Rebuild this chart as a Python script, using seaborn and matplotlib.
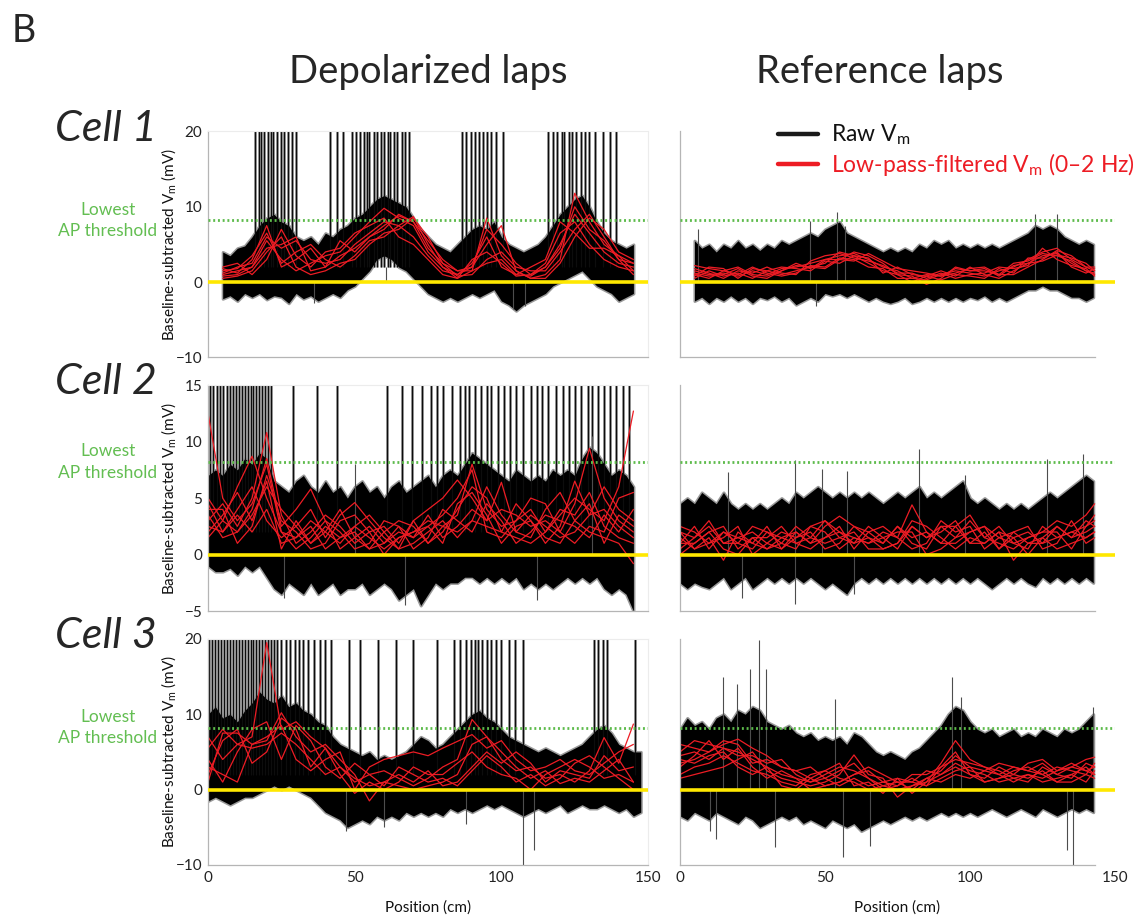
import numpy as np
import pandas as pd
import seaborn as sns
import matplotlib.pyplot as plt
from matplotlib.transforms import blended_transform_factory

nan = np.nan

# --- posições (cm) ---
POS_DEP = [0, 5, 10, 15, 20, 25, 30, 35, 40, 45, 50, 55, 60, 65, 70, 75, 80, 85, 90, 95,
           100, 105, 110, 115, 120, 125, 130, 135, 140, 145]
POS_REF = [0, 5, 10, 15, 20, 25, 30, 35, 40, 45, 50, 55, 60, 65, 70, 75, 80, 85, 90, 95,
           100, 105, 110, 115, 120, 125, 130, 135, 140, 143]
BAND_DEP = [0, 2.5, 5, 7.5, 10, 12.5, 15, 17.5, 20, 22.5, 25, 27.5, 30, 32.5, 35, 37.5, 40, 42.5,
            45, 47.5, 50, 52.5, 55, 57.5, 60, 62.5, 65, 67.5, 70, 72.5, 75, 77.5, 80, 82.5, 85,
            87.5, 90, 92.5, 95, 97.5, 100, 102.5, 105, 107.5, 110, 112.5, 115, 117.5, 120, 122.5,
            125, 127.5, 130, 132.5, 135, 137.5, 140, 142.5, 145, 147.5]
BAND_REF = [0, 2.5, 5, 7.5, 10, 12.5, 15, 17.5, 20, 22.5, 25, 27.5, 30, 32.5, 35, 37.5, 40, 42.5,
            45, 47.5, 50, 52.5, 55, 57.5, 60, 62.5, 65, 67.5, 70, 72.5, 75, 77.5, 80, 82.5, 85,
            87.5, 90, 92.5, 95, 97.5, 100, 102.5, 105, 107.5, 110, 112.5, 115, 117.5, 120, 122.5,
            125, 127.5, 130, 132.5, 135, 137.5, 140, 142.5]

# --- Célula 1, voltas despolarizadas ---
C1_DEP_UP = [nan, nan, 4.0, 3.5, 4.5, 4.8, 6.0, 7.5, 8.5, 9.0, 8.0, 7.5, 6.0, 5.5, 6.0, 5.0, 6.5, 6.0, 7.0, 7.5,
             8.5, 9.0, 10.0, 11.0, 11.5, 11.0, 10.5, 10.0, 8.5, 7.0, 6.0, 5.0, 4.5, 4.0, 5.0, 6.0, 7.0, 7.5, 7.0, 8.0,
             6.0, 5.0, 4.5, 4.0, 4.5, 5.0, 6.0, 7.5, 9.0, 10.0, 11.0, 11.5, 10.0, 8.0, 6.5, 5.5, 5.0, 4.5, 5.0, nan]
C1_DEP_LO = [nan, nan, -2.2, -1.8, -2.5, -1.5, -2.0, -1.5, -2.3, -1.8, -2.0, -2.8, -1.5, -2.2, -1.8, -2.5, -2.0, -1.5, -2.0, -1.0,
             -0.5, 0.5, 1.5, 3.0, 3.5, 3.0, 2.0, 1.5, 0.5, -0.5, -1.5, -2.0, -2.5, -2.0, -2.5, -2.0, -1.5, -2.0, -1.5, -1.0,
             -2.5, -3.0, -3.8, -3.0, -2.5, -2.0, -1.5, -0.5, 0.0, 0.5, 1.0, 1.5, 0.5, -0.5, -1.0, -1.5, -2.5, -2.0, -1.5, nan]
C1_DEP_SPIKES = [16, 17.5, 18.2, 19, 20.5, 21.5, 22.3, 23.5, 24.8, 26, 27.2, 28.5, 30, 41.5, 44, 46, 49, 50.5,
                 51.8, 53, 54.2, 55, 56.5, 57.5, 58.8, 60, 61.2, 62, 63.5, 64.5, 66, 67, 68.5, 86.5, 88, 89.5,
                 91, 92.5, 93.8, 95, 96.5, 98, 100.5, 116, 117.5, 119, 120.5, 121.5, 123, 124, 125.5, 127,
                 128.5, 130, 132, 134.5, 137, 139]
C1_DEP_PEAK_X = [36, 60.5, 104, 108]
C1_DEP_PEAK_Y = [-2.8, 2.0, -3.6, -3.2]
C1_DEP_LAPS = [
    [nan, 1.0, 1.5, 2.0, 5.5, 3.0, 1.5, 2.5, 3.5, 4.0, 6.0, 8.0, 9.8, 8.5, 7.5, 4.0, 2.0, 1.0, 2.5, 6.0, 2.0, 1.0, 0.8, 2.0, 5.0, 9.0, 6.5, 4.0, 2.5, 2.0],
    [nan, 1.8, 1.2, 3.0, 7.5, 2.0, 3.0, 4.5, 2.0, 3.5, 4.5, 6.0, 7.5, 8.8, 8.0, 5.5, 3.0, 1.5, 1.5, 8.5, 3.5, 1.5, 0.5, 1.0, 3.0, 11.8, 8.0, 5.0, 3.5, 1.5],
    [nan, 0.5, 0.8, 1.5, 4.0, 6.0, 2.0, 1.0, 1.5, 2.5, 3.0, 5.0, 6.5, 7.0, 8.5, 6.0, 2.5, 0.8, 1.0, 3.0, 4.0, 2.0, 1.5, 1.5, 4.0, 7.0, 9.0, 6.0, 3.0, 2.5],
    [nan, 1.2, 2.0, 2.5, 6.0, 4.5, 5.5, 3.0, 2.5, 3.0, 5.0, 6.5, 8.0, 7.5, 6.0, 3.5, 1.5, 1.0, 2.0, 5.0, 7.5, 1.5, 0.5, 0.5, 2.5, 6.0, 8.5, 7.0, 4.0, 3.0],
    [nan, 2.0, 2.5, 1.0, 3.0, 7.0, 3.5, 2.0, 4.0, 4.5, 6.5, 7.5, 8.5, 6.0, 5.0, 3.0, 1.0, 0.5, 3.0, 4.0, 2.5, 0.8, 1.0, 2.5, 6.5, 8.0, 5.0, 3.0, 2.0, 1.5],
    [nan, 0.8, 1.0, 2.0, 4.5, 5.0, 6.0, 1.5, 2.0, 5.5, 4.0, 6.0, 7.0, 9.0, 8.0, 4.5, 2.5, 1.5, 2.0, 7.0, 5.0, 2.5, 1.0, 2.0, 4.5, 10.0, 7.0, 5.5, 3.0, 1.0],
    [nan, 1.5, 1.8, 3.5, 6.5, 2.5, 4.0, 5.0, 3.0, 2.0, 3.5, 5.5, 6.0, 7.5, 8.7, 5.0, 2.0, 0.5, 1.5, 2.5, 3.0, 1.0, 2.0, 3.0, 8.0, 6.5, 4.5, 4.5, 3.5, 2.5],
]

# --- Célula 1, voltas de referência ---
C1_REF_UP = [nan, nan, 5.5, 4.5, 5.0, 4.0, 5.0, 4.5, 5.5, 4.5, 5.0, 4.2, 5.0, 4.5, 5.5, 5.0, 5.5, 6.0, 6.5, 6.0,
             7.0, 7.5, 8.0, 6.5, 6.0, 5.5, 5.0, 4.5, 4.0, 4.5, 4.0, 4.5, 4.0, 5.0, 4.5, 5.5, 5.0, 5.5, 4.5, 5.0,
             4.5, 5.0, 4.5, 5.0, 4.5, 5.0, 5.5, 6.0, 6.5, 7.5, 7.0, 7.5, 7.0, 6.0, 5.5, 5.0, 5.5, 5.0]
C1_REF_LO = [nan, nan, -2.5, -2.0, -2.8, -2.0, -2.5, -1.8, -2.5, -2.0, -2.8, -2.0, -2.3, -1.8, -2.5, -2.0, -3.0, -2.5, -2.0, -2.5,
             -1.5, -1.8, -1.5, -2.0, -1.5, -2.0, -2.5, -2.0, -2.5, -2.8, -2.5, -2.0, -2.8, -2.5, -2.0, -2.5, -2.0, -2.5, -2.0, -2.5,
             -2.0, -2.3, -1.8, -2.5, -2.0, -2.5, -2.0, -1.5, -1.0, -1.0, -0.5, -1.0, -1.0, -1.5, -2.0, -2.0, -2.5, -2.0]
C1_REF_SPIKES = []
C1_REF_PEAK_X = [6.3, 44.8, 54, 57, 122.4, 130, 47]
C1_REF_PEAK_Y = [7.0, 8.1, 9.3, 7.5, 9.1, 9.0, -3.2]
C1_REF_LAPS = [
    [nan, 1.5, 1.0, 1.2, 0.8, 1.5, 1.0, 1.8, 2.0, 2.5, 3.0, 3.5, 3.8, 3.0, 2.0, 1.5, 0.5, 0.3, 1.0, 1.5, 1.2, 0.8, 1.5, 2.0, 3.0, 4.0, 4.5, 3.0, 2.0, 1.5],
    [nan, 0.5, 1.5, 0.8, 1.2, 0.5, 1.5, 1.0, 1.5, 2.0, 2.5, 4.0, 3.5, 2.5, 1.5, 1.0, 0.0, 0.8, 1.5, 0.8, 2.0, 1.0, 0.5, 1.5, 2.5, 3.5, 3.8, 2.5, 1.5, 1.0],
    [nan, 2.2, 1.8, 1.5, 2.0, 1.0, 0.8, 1.5, 2.5, 1.8, 3.0, 3.0, 4.0, 3.5, 2.5, 1.0, 0.8, -0.3, 0.5, 2.0, 1.5, 1.5, 1.0, 1.0, 2.0, 3.0, 4.2, 3.5, 2.0, 2.0],
    [nan, 1.0, 0.5, 1.5, 1.0, 2.0, 1.2, 0.8, 1.2, 2.2, 2.0, 3.2, 3.0, 2.0, 1.8, 0.5, 0.5, 1.0, 0.8, 1.2, 1.8, 2.0, 1.0, 2.5, 2.8, 3.8, 3.5, 2.8, 1.5, 1.2],
    [nan, 1.8, 1.2, 0.5, 1.5, 1.2, 2.0, 1.2, 1.0, 2.8, 3.5, 3.8, 3.2, 2.8, 2.2, 1.2, 1.2, 0.5, 1.2, 0.5, 1.0, 1.2, 2.0, 1.8, 2.2, 4.5, 3.0, 2.2, 1.8, 0.8],
    [nan, 0.8, 2.0, 1.8, 0.5, 1.8, 1.5, 2.0, 1.8, 1.5, 2.8, 2.5, 3.5, 3.2, 1.2, 2.0, 1.0, 0.8, 0.3, 1.0, 0.8, 0.5, 1.8, 1.2, 3.2, 3.2, 4.0, 2.0, 1.2, 1.8],
    [nan, 1.2, 0.8, 1.0, 1.8, 0.8, 0.5, 1.5, 2.2, 2.0, 1.8, 3.0, 2.8, 3.8, 2.8, 1.8, 1.5, 1.2, 0.8, 1.8, 1.5, 1.8, 0.8, 2.2, 2.5, 2.8, 3.6, 3.2, 2.5, 1.5],
]

# --- Célula 2, voltas despolarizadas ---
C2_DEP_UP = [7.0, 7.5, 7.0, 8.0, 7.5, 8.5, 8.0, 9.0, 8.5, 6.5, 6.0, 5.5, 6.5, 7.0, 6.0, 5.5, 6.5, 5.5, 6.0, 5.0,
             6.0, 6.5, 5.5, 6.0, 5.0, 6.0, 6.5, 5.5, 6.0, 6.5, 7.0, 6.0, 7.0, 7.5, 7.0, 8.0, 9.0, 8.5, 8.0, 7.5,
             7.0, 6.5, 7.5, 7.0, 6.5, 7.0, 6.5, 7.5, 7.0, 7.5, 7.0, 8.5, 9.5, 9.0, 8.0, 7.0, 7.5, 7.0, 6.0, nan]
C2_DEP_LO = [-1.0, -1.5, -1.5, -1.2, -1.8, -1.0, -1.5, -1.0, -2.0, -3.0, -3.5, -2.5, -3.0, -3.5, -2.5, -3.5, -3.0, -2.5, -3.5, -3.0,
             -3.0, -2.5, -3.5, -3.0, -2.5, -3.0, -4.0, -3.5, -3.0, -4.5, -3.5, -2.5, -3.0, -2.5, -2.5, -2.0, -2.0, -2.5, -2.0, -2.5,
             -2.0, -2.5, -2.0, -3.0, -2.5, -3.0, -2.5, -3.0, -2.5, -2.0, -2.5, -2.0, -2.5, -2.0, -3.0, -3.5, -3.0, -3.5, -5.0, nan]
C2_DEP_SPIKES = [0.8, 1.8, 3, 4, 5.2, 6.5, 7.5, 8.5, 9.5, 10.5, 11.5, 12.5, 13.5, 14.5, 15.5, 16.5, 17.5, 18.5,
                 19.5, 20.5, 21.5, 29, 37, 44, 61, 66, 69.5, 73, 76, 78, 80, 83, 86, 87.5, 89, 91, 93, 95, 96.5,
                 99, 101, 103, 105, 107.5, 110, 112, 114, 116, 118.5, 121, 123, 125, 127, 129.5, 131, 133, 135,
                 137, 139, 141.5, 143.5]
C2_DEP_PEAK_X = [26, 67, 131, 50, 112]
C2_DEP_PEAK_Y = [-3.8, -4.5, 10.5, 8.0, -4.0]
C2_DEP_LAPS = [
    [12.5, 5.0, 3.0, 4.5, 8.0, 2.0, 1.5, 3.0, 2.0, 1.0, 2.5, 1.5, 0.5, 1.5, 2.0, 3.0, 2.5, 3.5, 8.0, 4.0, 2.5, 3.0, 4.0, 2.0, 3.5, 5.0, 4.0, 3.0, 6.0, 12.7],
    [3.0, 4.5, 2.5, 5.0, 10.8, 3.5, 1.0, 2.0, 3.5, 2.5, 1.0, 2.0, 2.5, 1.0, 3.0, 4.0, 5.0, 6.6, 5.0, 3.0, 4.0, 3.5, 2.5, 3.0, 2.0, 4.5, 9.4, 5.0, 3.0, 2.0],
    [4.5, 2.0, 4.0, 6.0, 3.0, 1.5, 2.5, 4.0, 1.5, 3.5, 4.6, 3.0, 1.5, 0.5, 1.0, 2.0, 3.0, 1.5, 3.0, 6.0, 3.5, 2.0, 1.5, 4.0, 5.5, 3.0, 2.0, 1.5, 1.0, -0.8],
    [2.0, 3.5, 5.5, 3.0, 6.5, 0.5, 3.0, 1.0, 2.5, 1.5, 2.0, 0.5, 2.0, 3.0, 2.5, 1.0, 2.0, 4.0, 6.0, 5.0, 2.0, 4.5, 3.0, 1.0, 2.5, 6.5, 3.5, 4.0, 2.5, 1.5],
    [3.5, 1.5, 2.0, 4.0, 8.5, 2.5, 4.0, 5.8, 3.0, 0.5, 1.5, 2.5, 1.0, 2.0, 1.5, 3.5, 1.5, 2.5, 4.0, 3.0, 6.4, 2.0, 3.5, 2.5, 1.5, 2.0, 3.5, 6.0, 4.0, 3.0],
    [1.5, 3.0, 6.0, 8.7, 5.0, 2.0, 0.5, 1.5, 3.0, 2.0, 0.5, 1.0, 3.0, 2.5, 0.5, 1.5, 4.0, 3.0, 2.0, 4.5, 3.0, 1.0, 2.0, 3.5, 3.0, 2.5, 1.5, 3.5, 2.0, 4.0],
    [4.0, 4.0, 1.0, 2.5, 7.0, 3.0, 2.0, 0.5, 1.0, 3.0, 3.5, 2.0, 0.0, 1.5, 2.0, 2.5, 3.5, 5.0, 7.5, 2.0, 1.5, 3.0, 5.0, 4.5, 2.0, 1.0, 2.5, 2.0, 5.0, 5.5],
    [2.5, 2.0, 3.5, 2.0, 4.0, 1.0, 1.5, 2.5, 0.5, 1.5, 2.5, 3.5, 2.0, 0.5, 3.0, 1.0, 2.5, 2.0, 3.0, 2.5, 2.0, 1.5, 1.0, 2.0, 4.0, 3.5, 5.5, 2.5, 1.5, 1.0],
    [5.0, 3.0, 2.0, 3.5, 6.0, 4.0, 2.5, 1.0, 2.0, 4.0, 1.5, 0.5, 1.0, 2.5, 1.5, 2.5, 1.0, 4.5, 5.5, 3.5, 1.0, 2.5, 3.0, 1.5, 1.0, 3.0, 4.5, 1.0, 3.5, 2.5],
]

# --- Célula 2, voltas de referência ---
C2_REF_UP = [4.5, 5.0, 4.5, 5.5, 5.0, 4.5, 5.5, 4.5, 4.0, 4.5, 4.0, 4.5, 4.0, 4.5, 5.0, 4.5, 5.5, 5.0, 5.5, 6.0,
             5.5, 5.0, 5.5, 5.0, 5.5, 5.0, 5.5, 5.0, 4.5, 5.0, 5.5, 5.0, 5.5, 6.0, 5.0, 5.5, 5.0, 5.5, 6.0, 6.5,
             5.0, 4.5, 5.0, 4.5, 4.0, 4.5, 4.0, 4.5, 4.0, 4.5, 5.0, 5.5, 5.0, 5.5, 6.0, 6.5, 7.0, 6.5]
C2_REF_LO = [-2.5, -3.0, -2.5, -2.8, -3.0, -2.5, -2.0, -3.0, -2.5, -2.0, -3.0, -2.5, -2.0, -2.5, -2.0, -2.5, -2.0, -2.5, -2.0, -2.5,
             -3.0, -2.5, -3.0, -3.5, -2.5, -2.0, -2.5, -2.0, -2.5, -2.0, -2.5, -2.0, -2.5, -2.0, -2.5, -2.0, -2.5, -2.0, -2.5, -2.0,
             -2.5, -2.0, -2.5, -3.0, -2.5, -2.0, -2.5, -2.0, -2.5, -2.8, -2.0, -2.5, -2.0, -2.5, -2.0, -2.5, -2.0, -2.5]
C2_REF_SPIKES = []
C2_REF_PEAK_X = [16.7, 39.7, 49, 57.5, 82.5, 98.3, 126.4, 139, 39.7, 21.5, 60]
C2_REF_PEAK_Y = [7.3, 8.4, 7.6, 7.4, 9.3, 7.0, 8.5, 8.9, -4.4, -3.8, -3.5]
C2_REF_LAPS = [
    [2.0, 1.5, 2.5, 1.0, 1.5, 2.0, 1.0, 0.5, 1.5, 2.5, 3.0, 2.0, 1.5, 1.0, 2.0, 1.5, 4.4, 2.0, 1.0, 2.5, 3.5, 1.5, 1.0, 0.5, 1.5, 2.0, 3.0, 2.5, 3.5, 4.5],
    [1.0, 2.5, 0.5, 2.0, 1.0, 0.5, 2.0, 1.5, 2.0, 1.0, 2.5, 3.4, 2.5, 1.5, 1.0, 2.5, 1.0, 0.5, 2.5, 1.5, 2.0, 2.5, 1.5, 1.0, 0.5, 2.5, 1.5, 2.0, 2.5, 3.0],
    [0.0, 1.0, 2.0, 2.5, 0.5, 1.5, 1.5, 2.5, 1.0, 0.5, 1.5, 2.0, 1.0, 2.5, 1.5, 0.5, 2.5, 1.5, 2.0, 3.0, 1.0, 2.0, 0.5, 1.5, 2.0, 1.0, 2.5, 1.5, 2.0, 2.5],
    [1.5, 0.5, 1.5, -0.5, 2.0, 1.0, 0.5, 1.0, 2.5, 1.5, 1.0, 1.5, 2.0, 0.5, 0.5, 1.0, 3.0, 2.5, 1.5, 0.5, 1.5, 1.0, 2.0, -0.5, 1.0, 1.5, 0.5, 1.0, 1.5, 2.0],
    [2.5, 2.0, 1.0, 1.5, 2.5, 0.0, 1.0, 2.0, 1.5, 2.0, 0.5, 1.0, 2.5, 2.0, 2.5, 1.5, 0.5, 1.0, 3.0, 2.0, 2.5, 0.5, 1.5, 2.0, 2.5, 0.5, 1.0, 3.0, 1.0, 1.5],
    [0.5, 1.5, 3.0, 1.0, 1.0, 2.5, 2.0, 1.0, 0.5, 2.5, 2.0, 0.5, 1.5, 1.0, 1.5, 2.0, 2.0, 0.0, 0.5, 1.5, 3.0, 1.5, 2.5, 1.0, 1.5, 2.0, 2.0, 0.5, 2.5, 3.5],
    [2.0, 0.5, 1.0, 2.0, 1.5, 1.0, 2.5, 0.5, 2.0, 1.0, 1.5, 2.5, 0.5, 2.0, 1.0, 2.5, 1.5, 2.0, 1.0, 1.0, 2.0, 2.5, 0.5, 2.0, 1.0, 1.0, 1.5, 2.0, 1.5, 2.0],
    [1.0, 1.0, 2.0, 0.5, 0.0, 1.5, 0.5, 1.5, 1.0, 1.5, 3.0, 1.5, 1.0, 1.5, 0.5, 1.0, 2.5, 1.5, 2.5, 2.5, 1.0, 1.0, 2.0, 1.5, 0.0, 1.5, 2.5, 1.5, 3.0, 2.5],
]

# --- Célula 3, voltas despolarizadas ---
C3_DEP_UP = [10.0, 11.0, 9.5, 10.0, 9.0, 10.5, 11.5, 13.0, 12.0, 11.5, 12.5, 11.0, 11.5, 10.5, 10.0, 9.0, 8.5, 7.0, 6.0, 5.5,
             5.0, 4.5, 5.0, 4.0, 4.5, 4.0, 4.5, 5.0, 6.0, 7.0, 6.5, 5.5, 6.0, 7.0, 8.0, 9.0, 10.0, 10.5, 9.5, 9.0,
             8.0, 7.0, 6.5, 6.0, 5.5, 5.0, 5.5, 5.0, 4.5, 5.0, 5.5, 6.0, 7.0, 8.0, 8.5, 7.5, 6.0, 5.5, 5.0, 5.0]
C3_DEP_LO = [-1.5, -1.0, -1.5, -2.0, -1.5, -1.0, -1.0, -0.5, 0.0, 0.5, 0.0, 0.5, 0.0, -0.5, -1.0, -2.0, -3.0, -3.5, -4.0, -5.0,
             -4.5, -4.0, -4.5, -3.5, -4.0, -3.5, -4.0, -3.0, -3.5, -3.0, -3.5, -3.0, -3.5, -2.5, -3.0, -2.5, -3.0, -2.5, -2.0, -2.5,
             -2.0, -2.5, -3.0, -3.5, -3.0, -2.5, -3.0, -2.5, -2.0, -3.0, -2.5, -2.0, -2.5, -2.5, -2.0, -2.5, -3.0, -2.5, -3.5, -3.0]
C3_DEP_SPIKES = [0.5, 1.5, 2.5, 3.5, 4.5, 5.5, 6.5, 7.5, 8.5, 9.5, 10.5, 11.5, 12.5, 13.5, 14.5, 15.5, 16.5, 17.5,
                 18.5, 19.5, 20.5, 21.5, 22.5, 23.5, 25, 26.5, 28, 29.5, 31, 32.5, 34, 36, 38, 40, 42, 48, 51.8,
                 58, 64, 70, 78, 84, 86, 88, 89.5, 91, 92, 93.5, 95, 96.5, 98, 100, 102.5, 104.5, 107.5,
                 131.5, 133, 134.5, 136, 145.5]
C3_DEP_PEAK_X = [107.5, 111, 88, 47, 60]
C3_DEP_PEAK_Y = [-10.0, -8.0, -4.5, -5.5, -5.0]
C3_DEP_LAPS = [
    [5.5, 8.0, 6.0, 7.0, 19.5, 8.0, 9.0, 7.0, 5.5, 3.0, 1.0, 2.0, 2.5, 1.5, 0.5, 1.5, 3.0, 4.0, 9.3, 7.0, 4.0, 2.5, 3.0, 1.5, 2.0, 1.0, 2.5, 6.9, 3.5, 8.7],
    [1.0, 7.5, 7.5, 6.0, 6.5, 10.2, 7.0, 5.0, 6.0, 4.0, 2.0, -1.5, 1.0, 0.5, 0.0, 0.5, 1.0, 2.0, 6.0, 7.0, 5.0, 3.0, 1.5, 2.5, 0.8, 1.5, 1.0, 2.5, 4.0, 1.0],
    [4.0, 1.0, 5.0, 8.0, 9.0, 4.0, 8.5, 6.5, 3.0, 1.5, 3.5, 2.0, 0.5, 3.0, 2.0, 1.0, 1.5, 0.5, 2.5, 4.5, 3.0, 1.0, 2.0, 0.5, 1.5, 3.5, 4.5, 3.0, 1.5, 0.0],
    [3.0, 2.0, 1.0, 6.0, 7.0, 8.5, 4.0, 2.5, 4.0, 5.0, 0.0, 3.0, 4.0, 4.5, 5.0, 4.5, 5.5, 6.4, 7.3, 5.5, 6.5, 4.0, 2.5, 3.0, 4.0, 2.5, 2.0, 3.5, 5.0, 6.0],
    [7.0, 4.0, 6.0, 5.5, 6.0, 7.5, 6.0, 4.0, 2.0, 3.0, 1.5, 0.5, 1.0, 2.0, 1.0, 2.5, 0.5, 1.0, 3.0, 5.0, 3.5, 5.0, 3.5, 1.0, 2.5, 2.0, 1.5, 4.5, 2.5, 3.0],
    [2.0, 6.5, 8.0, 3.5, 5.0, 9.5, 8.0, 3.0, 5.5, 2.0, -0.5, 1.0, 0.0, 1.0, 3.0, 2.0, 2.0, 3.5, 5.0, 3.0, 2.0, 1.5, 0.0, 2.0, 3.0, 4.0, 3.0, 1.5, 2.0, 1.0],
]

# --- Célula 3, voltas de referência ---
C3_REF_UP = [8.0, 9.5, 8.5, 9.0, 8.0, 9.5, 10.0, 9.0, 10.5, 10.0, 11.0, 10.5, 9.0, 8.5, 8.0, 8.5, 7.5, 7.0, 7.5, 6.5,
             7.0, 6.5, 7.0, 6.0, 7.5, 7.0, 6.0, 5.0, 4.5, 5.0, 4.5, 4.0, 5.0, 5.5, 6.5, 7.5, 8.5, 10.0, 11.0, 10.5,
             9.0, 8.0, 7.5, 8.0, 7.0, 7.5, 8.0, 7.0, 7.5, 7.0, 8.0, 7.5, 7.0, 8.0, 7.5, 8.0, 9.0, 10.0]
C3_REF_LO = [-3.5, -4.0, -3.0, -3.5, -4.0, -3.0, -3.5, -4.0, -4.5, -3.5, -4.0, -5.0, -4.5, -4.0, -3.5, -4.0, -3.5, -4.5, -4.0, -4.5,
             -5.0, -4.0, -4.5, -5.0, -4.5, -5.5, -5.0, -4.5, -4.0, -4.5, -4.0, -3.5, -4.0, -3.5, -4.0, -3.5, -3.0, -3.5, -3.0, -3.5,
             -3.0, -3.5, -3.0, -2.5, -3.0, -3.5, -3.0, -2.5, -3.0, -3.5, -2.5, -3.0, -3.5, -3.0, -2.5, -3.0, -2.5, -3.0]
C3_REF_SPIKES = []
C3_REF_PEAK_X = [15, 19.5, 24, 27.4, 29.5, 53.6, 93.7, 97, 142.5, 10.5, 12.5, 32.9, 56.3, 65.5, 133.3, 135.6]
C3_REF_PEAK_Y = [15, 14, 16, 19.8, 16, 12, 14.9, 12.3, 11, -5.5, -6.5, -7.6, -8.9, -7.5, -8.0, -10]
C3_REF_LAPS = [
    [5.0, 6.5, 6.0, 5.5, 5.0, 4.0, 3.0, 2.0, 1.5, 1.0, 1.5, 2.5, 3.5, 1.5, 0.5, 0.0, 0.5, 1.5, 2.5, 4.5, 3.0, 2.5, 2.0, 3.0, 2.5, 3.5, 2.0, 3.0, 4.0, 4.3],
    [3.5, 4.0, 5.0, 6.0, 6.7, 5.5, 4.5, 3.0, 2.5, 1.5, 0.5, 1.0, 2.0, 2.5, 1.0, 1.5, -0.5, 1.0, 3.5, 6.5, 4.0, 3.0, 2.5, 1.5, 2.0, 1.5, 2.5, 3.5, 2.5, 3.0],
    [2.0, 3.0, 3.5, 4.5, 3.5, 2.5, 2.0, 1.0, 0.5, 2.0, 2.5, 1.5, 1.0, 0.0, 0.5, 1.0, 1.0, 2.5, 2.0, 3.0, 2.0, 1.5, 3.0, 2.0, 1.5, 2.5, 1.0, 2.0, 3.0, 2.0],
    [4.5, 5.0, 4.0, 5.5, 4.5, 4.5, 3.5, 4.0, 2.0, 1.0, 2.0, 3.0, 2.5, 1.5, 0.0, 0.5, 1.5, 0.5, 1.5, 2.5, 3.0, 1.0, 1.5, 2.5, 3.0, 2.0, 3.0, 2.5, 2.0, 3.5],
    [1.5, 2.0, 2.5, 3.0, 4.0, 5.0, 2.5, 1.5, 1.0, 0.5, 1.0, 2.0, 4.6, 2.0, 1.5, -1.0, 0.5, 1.0, 2.0, 3.5, 2.5, 2.0, 1.0, 1.5, 1.0, 3.0, 2.0, 1.5, 3.5, 3.0],
    [6.0, 5.5, 5.0, 6.5, 6.0, 3.5, 4.0, 3.0, 2.5, 3.0, 1.5, 0.5, 1.5, 0.5, 1.0, 0.5, 2.0, 2.0, 3.0, 4.0, 3.5, 3.0, 2.0, 1.0, 2.0, 1.0, 1.5, 2.0, 1.0, 2.5],
    [3.0, 4.5, 6.5, 4.0, 5.5, 3.0, 1.5, 2.5, 1.5, 0.0, 0.5, 1.0, 2.0, 3.0, 2.0, 1.0, 0.0, 1.5, 1.0, 2.0, 1.5, 2.5, 3.5, 3.0, 2.5, 2.0, 1.0, 1.0, 2.0, 1.5],
    [4.0, 3.5, 4.5, 5.0, 3.0, 2.0, 3.0, 0.5, 0.0, 1.5, 2.5, 3.5, 0.5, 1.0, -0.5, 1.5, 1.0, 0.5, 3.0, 5.0, 2.0, 1.0, 1.5, 2.0, 3.5, 4.0, 2.5, 3.0, 2.5, 2.0],
]

THRESHOLD = 8.2
CELLS = ["Cell 1", "Cell 2", "Cell 3"]
YLIMS = [(-10, 20), (-5, 15), (-10, 20)]
YTICK_LABELED = [[-10, 0, 10, 20], [-5, 0, 5, 10, 15], [-10, 0, 10, 20]]
YTICK_MINOR = [[-5, 5, 15], [], [-5, 5, 15]]

RED = "#ED1C24"
YELLOW = "#FFE800"
GREEN = "#5DBB4B"
SPINE = "#b5b5b5"

sns.set_theme(style="white")
plt.rcParams["font.family"] = ["Lato", "DejaVu Sans"]
plt.rcParams["mathtext.fontset"] = "custom"
plt.rcParams["mathtext.rm"] = "Lato"

fig = plt.figure(figsize=(11.43, 9.19), dpi=100)
fig.patch.set_facecolor("white")

LEFTS = [0.182, 0.5949]
WIDTHS = [0.385, 0.3806]
BOTTOMS = [0.611, 0.335, 0.0588]
HEIGHT = 0.246

panels = [
    [(BAND_DEP, C1_DEP_UP, C1_DEP_LO, C1_DEP_SPIKES, C1_DEP_PEAK_X, C1_DEP_PEAK_Y, POS_DEP, C1_DEP_LAPS),
     (BAND_REF, C1_REF_UP, C1_REF_LO, C1_REF_SPIKES, C1_REF_PEAK_X, C1_REF_PEAK_Y, POS_REF, C1_REF_LAPS)],
    [(BAND_DEP, C2_DEP_UP, C2_DEP_LO, C2_DEP_SPIKES, C2_DEP_PEAK_X, C2_DEP_PEAK_Y, POS_DEP, C2_DEP_LAPS),
     (BAND_REF, C2_REF_UP, C2_REF_LO, C2_REF_SPIKES, C2_REF_PEAK_X, C2_REF_PEAK_Y, POS_REF, C2_REF_LAPS)],
    [(BAND_DEP, C3_DEP_UP, C3_DEP_LO, C3_DEP_SPIKES, C3_DEP_PEAK_X, C3_DEP_PEAK_Y, POS_DEP, C3_DEP_LAPS),
     (BAND_REF, C3_REF_UP, C3_REF_LO, C3_REF_SPIKES, C3_REF_PEAK_X, C3_REF_PEAK_Y, POS_REF, C3_REF_LAPS)],
]


def laps_frame(pos, laps):
    rows = []
    for i, lap in enumerate(laps):
        for p, v in zip(pos, lap):
            rows.append((i, p, v))
    return pd.DataFrame(rows, columns=["lap", "pos", "vm"]).dropna()


axes = {}
for r in range(3):
    for c in range(2):
        ax = fig.add_axes([LEFTS[c], BOTTOMS[r], WIDTHS[c], HEIGHT])
        axes[(r, c)] = ax
        band_x, up, lo, spikes, px, py, lap_x, laps = panels[r][c]
        ylim = YLIMS[r]

        # Vm bruto: envelope (com halo cinza) + potenciais de ação + picos isolados
        ax.fill_between(band_x, lo, up, color="0.55", linewidth=2.2, edgecolor="0.6", zorder=1)
        ax.fill_between(band_x, lo, up, color="black", linewidth=0, zorder=1)
        if spikes:
            ax.vlines(spikes, 2, ylim[1] + 5, color="0.6", linewidth=2.0, zorder=0.9)
            ax.vlines(spikes, 2, ylim[1] + 5, color="0.05", linewidth=0.9, zorder=1)
        if px:
            ax.vlines(px, 0, py, color="0.3", linewidth=0.8, zorder=1)

        # Vm filtrado (uma linha por volta)
        df = laps_frame(lap_x, laps)
        sns.lineplot(data=df, x="pos", y="vm", units="lap", estimator=None, sort=False,
                     color=RED, linewidth=0.9, ax=ax, legend=False, zorder=2)

        ax.axhline(0, color=YELLOW, linewidth=2.6, zorder=3)
        ax.axhline(THRESHOLD, color=GREEN, linewidth=2.0, linestyle=(0, (0.7, 1.0)), zorder=3)

        ax.set_xlim(0, 150)
        ax.set_ylim(*ylim)
        ax.set_xticks([0, 50, 100, 150])
        ax.set_yticks(YTICK_LABELED[r])
        ax.set_yticks(YTICK_MINOR[r], minor=True)
        ax.set_xlabel("")
        ax.set_ylabel("")
        ax.tick_params(axis="both", which="both", direction="in", color=SPINE,
                       labelsize=11, labelcolor="#222222", pad=4)
        ax.tick_params(which="major", length=4, width=0.8)
        ax.tick_params(which="minor", length=4, width=0.8)
        for s in ["left", "bottom"]:
            ax.spines[s].set_color(SPINE)
            ax.spines[s].set_linewidth(0.9)
        for s in ["top", "right"]:
            ax.spines[s].set_color("#ececec")
            ax.spines[s].set_linewidth(0.8)
        if c == 1:
            ax.spines["bottom"].set_bounds(0, 143)
            ax.spines["top"].set_visible(False)
            ax.spines["right"].set_visible(False)
            ax.tick_params(labelleft=False)
        else:
            ax.set_ylabel("Baseline-subtracted V$_{\\rm m}$ (mV)", fontsize=11, color="#111111")
            ax.yaxis.set_label_coords(-0.066, 0.5)
        if r < 2:
            ax.tick_params(labelbottom=False)
        else:
            ax.set_xlabel("Position (cm)", fontsize=11, color="#111111")
            ax.xaxis.set_label_coords(0.5, -0.155)

        # rótulos à esquerda
        if c == 0:
            tr = blended_transform_factory(fig.transFigure, ax.transData)
            ax.text(0.0945, THRESHOLD, "Lowest\nAP threshold", transform=tr, ha="center",
                    va="center", color="#63BE52", fontsize=12.5, linespacing=1.4)

# títulos e rótulos de célula
fig.text(0.0105, 0.954, "B", fontsize=27, ha="left", va="baseline")
fig.text(0.3745, 0.9097, "Depolarized laps", fontsize=27.5, ha="center", va="baseline")
fig.text(0.770, 0.9097, "Reference laps", fontsize=27.5, ha="center", va="baseline")
for r, name in enumerate(CELLS):
    yc = [0.8596, 0.5843, 0.308][r]
    fig.text(0.048, yc, name, fontsize=31, style="italic", ha="left", va="center")

# legenda
lax = axes[(0, 1)]
lax.plot([0.225, 0.317], [0.987, 0.987], transform=lax.transAxes, color="#1a1a1a",
         linewidth=3.2, clip_on=False, zorder=5)
lax.plot([0.225, 0.317], [0.855, 0.855], transform=lax.transAxes, color=RED,
         linewidth=3.2, clip_on=False, zorder=5)
lax.text(0.347, 0.987, "Raw V$_{\\rm m}$", transform=lax.transAxes, fontsize=16.5,
         color="#111111", va="center", ha="left")
lax.text(0.347, 0.855, "Low-pass-filtered V$_{\\rm m}$ (0\u20132 Hz)", transform=lax.transAxes,
         fontsize=16.5, color=RED, va="center", ha="left")

fig.savefig("out.png", dpi=100, facecolor="white")
